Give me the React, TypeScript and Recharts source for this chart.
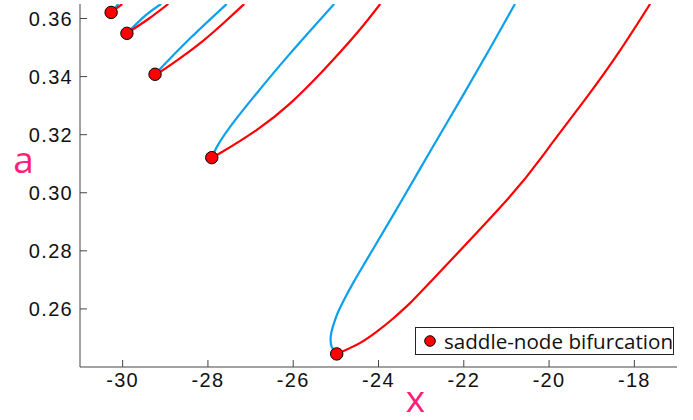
import { ComposedChart, Line, Scatter, XAxis, YAxis, Legend } from "recharts";

const blue = "#0aa0ec";
const red = "#ff0000";
const pink = "#ff1f7b";
const axisColor = "#444";

const xTicks = [-30, -28, -26, -24, -22, -20, -18];
const aTicks = [0.26, 0.28, 0.3, 0.32, 0.34, 0.36];

// saddle-node points, one per loop (small ones top-left, big one at the bottom)
const saddleNodes = [
  [-30.27, 0.3621],
  [-29.9, 0.3549],
  [-29.24, 0.3408],
  [-27.91, 0.3121],
  [-24.98, 0.2445],
];

// each branch starts at its saddle-node and runs up to the top edge
const blue5 = [[-30.27, 0.3621], [-30.1, 0.365]];
const red5 = [[-30.27, 0.3621], [-30.01, 0.365]];

const blue4 = [[-29.9, 0.3549], [-29.47, 0.361], [-29.1, 0.365]];
const red4 = [[-29.9, 0.3549], [-29.38, 0.36], [-28.93, 0.365]];

const blue3 = [[-29.24, 0.3408], [-29.0, 0.3445], [-28.38, 0.3537], [-27.56, 0.365]];
const red3 = [
  [-29.24, 0.3408], [-29.08, 0.342], [-28.61, 0.3468],
  [-28.1, 0.3525], [-27.6, 0.3589], [-27.15, 0.365],
];

const blue2 = [
  [-27.91, 0.3121], [-27.79, 0.3158], [-27.48, 0.3227],
  [-26.86, 0.3342], [-26.07, 0.348], [-25.04, 0.365],
];
const red2 = [
  [-27.91, 0.3121], [-27.72, 0.3136], [-26.86, 0.3216], [-26.07, 0.3308],
  [-25.29, 0.3422], [-24.51, 0.3549], [-23.96, 0.365],
];

const blue1 = [
  [-24.98, 0.2445], [-25.1, 0.247], [-25.12, 0.2505], [-25.07, 0.2539],
  [-24.96, 0.2585], [-24.81, 0.2631], [-24.6, 0.2688], [-24.37, 0.2746],
  [-24.14, 0.2803], [-23.45, 0.2975], [-22.77, 0.3147], [-22.04, 0.333],
  [-21.41, 0.3491], [-20.8, 0.365],
];
const red1 = [
  [-24.98, 0.2445], [-24.82, 0.2455], [-24.43, 0.2483], [-24.04, 0.2522],
  [-23.65, 0.2568], [-23.26, 0.262], [-22.79, 0.2692], [-20.99, 0.2975],
  [-20.05, 0.3147], [-19.11, 0.333], [-18.33, 0.3491], [-17.63, 0.365],
];

const toPts = (arr: number[][]) => arr.map(([x, a]) => ({ x, a }));

const branches = [
  { id: "b5", pts: blue5, color: blue },
  { id: "r5", pts: red5, color: red },
  { id: "b4", pts: blue4, color: blue },
  { id: "r4", pts: red4, color: red },
  { id: "b3", pts: blue3, color: blue },
  { id: "r3", pts: red3, color: red },
  { id: "b2", pts: blue2, color: blue },
  { id: "r2", pts: red2, color: red },
  { id: "b1", pts: blue1, color: blue },
  { id: "r1", pts: red1, color: red },
];

const nameFont = "'Open Sans', sans-serif";

function TickText(props: any) {
  const { x, y, payload, textAnchor, verticalAnchor, digits } = props;
  const dy = verticalAnchor === "start" ? "0.71em" : "0.36em";
  const v = payload.value as number;
  return (
    <text
      x={x}
      y={y}
      dy={dy}
      textAnchor={textAnchor}
      fill="#111"
      fontSize={20}
      fontFamily="'Liberation Sans', Arial, sans-serif"
      letterSpacing={1.3}
    >
      {digits ? v.toFixed(digits) : String(v)}
    </text>
  );
}

function AxisName(props: any) {
  const { viewBox, text, dx, dy } = props;
  if (!viewBox) return null;
  return (
    <text
      x={viewBox.x + dx}
      y={viewBox.y + dy}
      textAnchor="middle"
      fill={pink}
      fontSize={37}
      fontFamily={nameFont}
    >
      {text}
    </text>
  );
}

function SaddleLegend(props: any) {
  const items = (props.payload ?? []).filter((p: any) => p.type !== "none");
  return (
    <div
      style={{
        boxSizing: "border-box",
        width: 259,
        height: 28,
        border: "1px solid #222",
        background: "#fff",
        display: "flex",
        alignItems: "center",
        paddingLeft: 8,
      }}
    >
      {items.map((p: any) => (
        <span key={p.value} style={{ display: "flex", alignItems: "center" }}>
          <svg width={12} height={12}>
            <circle cx={6} cy={6} r={5.3} fill={red} stroke="#000" strokeWidth={1} />
          </svg>
          <span
            style={{
              marginLeft: 8,
              fontFamily: nameFont,
              fontSize: 20.6,
              color: "#111",
              whiteSpace: "nowrap",
            }}
          >
            {p.value}
          </span>
        </span>
      ))}
    </div>
  );
}

export default function App() {
  return (
    <div style={{ position: "absolute", left: 0, top: 0, background: "#fff" }}>
      <ComposedChart
        width={693}
        height={420}
        margin={{ top: 4, right: 16, bottom: 0, left: 0 }}
      >
        <XAxis
          type="number"
          dataKey="x"
          domain={[-31, -17]}
          ticks={xTicks}
          interval={0}
          allowDataOverflow
          height={53}
          stroke={axisColor}
          tickSize={-7}
          tickMargin={12.5}
          tick={<TickText />}
          label={<AxisName text="x" dx={335.5} dy={44.5} />}
        />
        <XAxis
          xAxisId="top"
          orientation="top"
          type="number"
          dataKey="x"
          domain={[-31, -17]}
          ticks={xTicks}
          interval={0}
          allowDataOverflow
          height={0}
          stroke={axisColor}
          tickSize={-7}
          tick={false}
        />
        <YAxis
          type="number"
          dataKey="a"
          domain={[0.24, 0.365]}
          ticks={aTicks}
          interval={0}
          allowDataOverflow
          width={80}
          stroke={axisColor}
          tickSize={-7}
          tickMargin={14}
          tick={<TickText digits={2} />}
          label={<AxisName text="a" dx={23.5} dy={168.5} />}
        />
        <YAxis
          yAxisId="right"
          orientation="right"
          type="number"
          dataKey="a"
          domain={[0.24, 0.365]}
          ticks={aTicks}
          interval={0}
          allowDataOverflow
          width={0}
          stroke={axisColor}
          tickSize={-7}
          tick={false}
        />
        {branches.map((b) => (
          <Line
            key={b.id}
            data={toPts(b.pts)}
            dataKey="a"
            type="natural"
            stroke={b.color}
            strokeWidth={2.2}
            dot={false}
            activeDot={false}
            legendType="none"
            isAnimationActive={false}
          />
        ))}
        <Scatter
          name="saddle-node bifurcation"
          data={toPts(saddleNodes)}
          dataKey="a"
          fill={red}
          isAnimationActive={false}
          shape={(p: any) => (
            <circle cx={p.cx} cy={p.cy} r={6.2} fill={red} stroke="#000" strokeWidth={1} />
          )}
        />
        <Legend
          layout="horizontal"
          verticalAlign="middle"
          align="center"
          wrapperStyle={{ left: 415, top: 326.5, width: 259, height: 28 }}
          content={SaddleLegend}
        />
      </ComposedChart>
    </div>
  );
}
